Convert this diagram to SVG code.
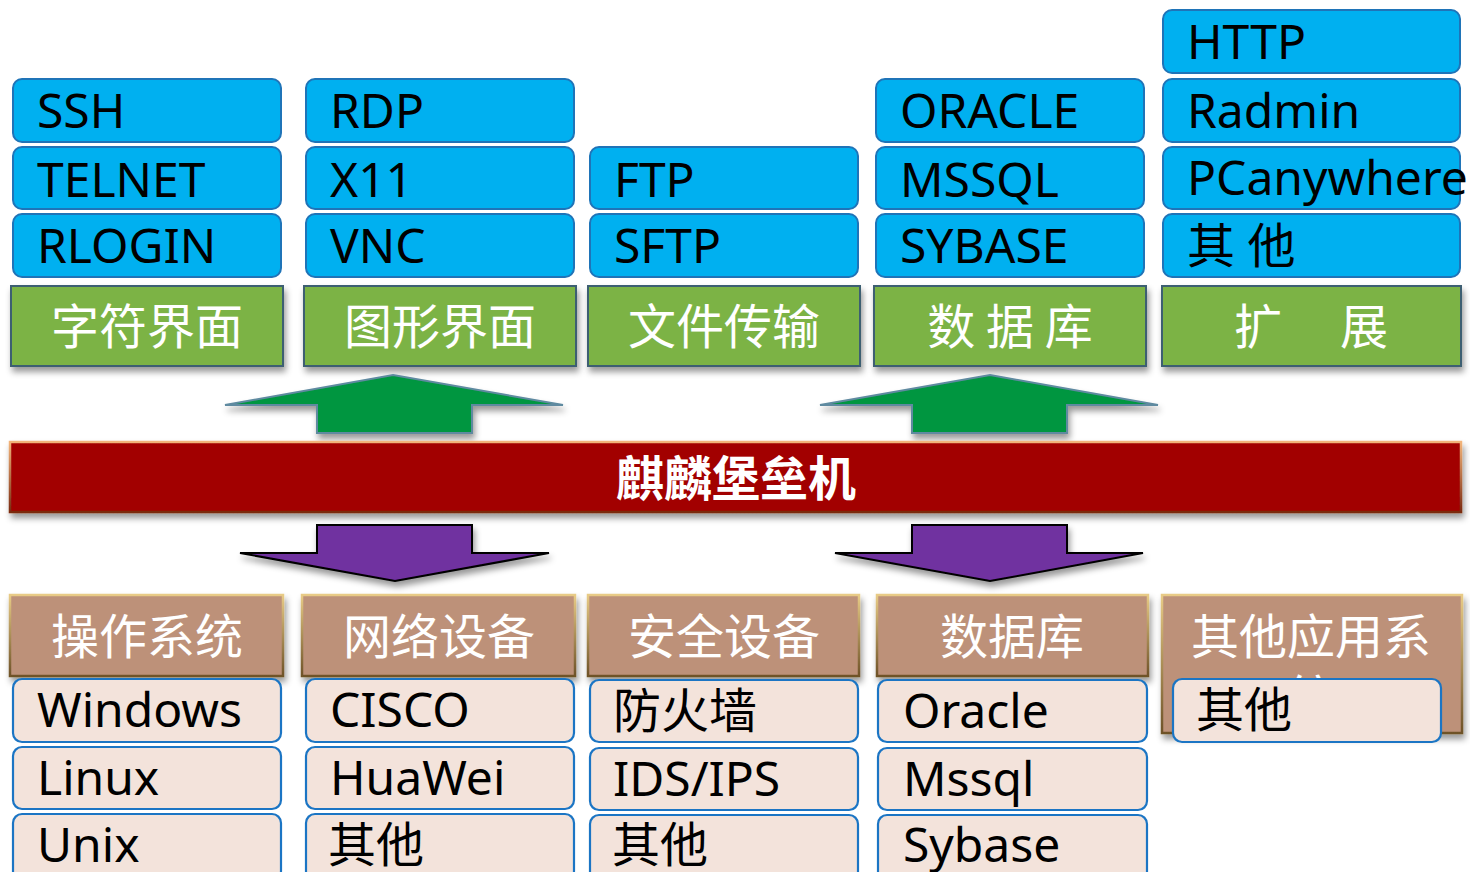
<svg xmlns="http://www.w3.org/2000/svg" width="1470" height="872" viewBox="0 0 1470 872">
<defs>
<filter id="sh" x="-10%" y="-20%" width="120%" height="150%">
<feDropShadow dx="2" dy="5" stdDeviation="3" flood-color="#000" flood-opacity="0.4"/>
</filter>
<linearGradient id="redEdge" x1="0" y1="0" x2="0" y2="1">
<stop offset="0" stop-color="#F2B47A"/><stop offset="1" stop-color="#7A2A10"/>
</linearGradient>
<linearGradient id="brownEdge" x1="0" y1="0" x2="0" y2="1">
<stop offset="0" stop-color="#E8CB86"/><stop offset="1" stop-color="#6E5228"/>
</linearGradient>
</defs>
<style>
.blue{fill:#00B0F0;stroke:#1F74B8;stroke-width:2}
.pink{fill:#F3E3DB;stroke:#1B75C4;stroke-width:2.2}
.green{fill:#7BB344;stroke:#3E5F72;stroke-width:2;filter:url(#sh)}
.brown{fill:#BD9179;stroke:url(#brownEdge);stroke-width:2.5;filter:url(#sh)}
.t{font-family:"Noto Sans","Noto Sans CJK SC",sans-serif;font-size:48px;fill:#000}
.h{font-family:"Noto Sans CJK SC","Noto Sans",sans-serif;font-size:48px;fill:#fff;text-anchor:middle}
.up{fill:#009640;stroke:#5E8AA0;stroke-width:2;stroke-linejoin:miter;filter:url(#sh)}
.down{fill:#7030A0;stroke:#000;stroke-width:2;filter:url(#sh)}
</style>

<!-- Top protocol groups -->
<g id="col1-top">
<rect class="blue" x="13" y="79" width="268" height="63" rx="9"/>
<text class="t" x="37" y="128">SSH</text>
<rect class="blue" x="13" y="147" width="268" height="62" rx="9"/>
<text class="t" x="37" y="197">TELNET</text>
<rect class="blue" x="13" y="214" width="268" height="63" rx="9"/>
<text class="t" x="37" y="263">RLOGIN</text>
</g>
<g id="hdr-char">
<rect class="green" x="11" y="286" width="272" height="80"/>
<text class="h" x="147" y="344">字符界面</text>
</g>

<g id="col2-top">
<rect class="blue" x="306" y="79" width="268" height="63" rx="9"/>
<text class="t" x="330" y="128">RDP</text>
<rect class="blue" x="306" y="147" width="268" height="62" rx="9"/>
<text class="t" x="330" y="197">X11</text>
<rect class="blue" x="306" y="214" width="268" height="63" rx="9"/>
<text class="t" x="330" y="263">VNC</text>
</g>
<g id="hdr-gui">
<rect class="green" x="304" y="286" width="272" height="80"/>
<text class="h" x="440" y="344">图形界面</text>
</g>

<g id="col3-top">
<rect class="blue" x="590" y="147" width="268" height="62" rx="9"/>
<text class="t" x="614" y="197">FTP</text>
<rect class="blue" x="590" y="214" width="268" height="63" rx="9"/>
<text class="t" x="614" y="263">SFTP</text>
</g>
<g id="hdr-file">
<rect class="green" x="588" y="286" width="272" height="80"/>
<text class="h" x="724" y="344">文件传输</text>
</g>

<g id="col4-top">
<rect class="blue" x="876" y="79" width="268" height="63" rx="9"/>
<text class="t" x="900" y="128">ORACLE</text>
<rect class="blue" x="876" y="147" width="268" height="62" rx="9"/>
<text class="t" x="900" y="197">MSSQL</text>
<rect class="blue" x="876" y="214" width="268" height="63" rx="9"/>
<text class="t" x="900" y="263">SYBASE</text>
</g>
<g id="hdr-db">
<rect class="green" x="874" y="286" width="272" height="80"/>
<text class="h" x="1010" y="344">数 据 库</text>
</g>

<g id="col5-top">
<rect class="blue" x="1163" y="10" width="297" height="63" rx="9"/>
<text class="t" x="1187" y="59">HTTP</text>
<rect class="blue" x="1163" y="79" width="297" height="63" rx="9"/>
<text class="t" x="1187" y="128">Radmin</text>
<rect class="blue" x="1163" y="147" width="297" height="62" rx="9"/>
<text class="t" x="1187" y="195">PCanywhere</text>
<rect class="blue" x="1163" y="214" width="297" height="63" rx="9"/>
<text class="t" x="1187" y="263">其 他</text>
</g>
<g id="hdr-ext">
<rect class="green" x="1162" y="286" width="299" height="80"/>
<text class="h" x="1258" y="344">扩<tspan x="1364">展</tspan></text>
</g>

<!-- Connectors (block arrows) -->
<g id="connectors">
<polygon class="up" points="393,375 563,405 472,405 472,433 317,433 317,405 225,405"/>
<polygon class="up" points="990,375 1158,405 1067,405 1067,433 912,433 912,405 820,405"/>
<polygon class="down" points="317,525 472,525 472,553 549,553 395,581 240,553 317,553"/>
<polygon class="down" points="912,525 1067,525 1067,553 1143,553 990,581 835,553 912,553"/>
</g>

<!-- Central bar -->
<g id="bastion">
<rect x="10" y="442" width="1451" height="70" fill="#A20000" stroke="url(#redEdge)" stroke-width="2.5" filter="url(#sh)"/>
<text x="736" y="496" font-family="'Noto Sans CJK SC',sans-serif" font-size="48" font-weight="bold" fill="#fff" text-anchor="middle">麒麟堡垒机</text>
</g>

<!-- Bottom groups -->
<g id="hdr-os">
<rect class="brown" x="10" y="595" width="273" height="81"/>
<text class="h" x="147" y="654">操作系统</text>
</g>
<g id="col1-bot">
<rect class="pink" x="13" y="679" width="268" height="63" rx="9"/>
<text class="t" x="37" y="727">Windows</text>
<rect class="pink" x="13" y="747" width="268" height="62" rx="9"/>
<text class="t" x="37" y="795">Linux</text>
<rect class="pink" x="13" y="814" width="268" height="66" rx="9"/>
<text class="t" x="37" y="862">Unix</text>
</g>

<g id="hdr-net">
<rect class="brown" x="302" y="595" width="273" height="81"/>
<text class="h" x="439" y="654">网络设备</text>
</g>
<g id="col2-bot">
<rect class="pink" x="306" y="679" width="268" height="63" rx="9"/>
<text class="t" x="330" y="727">CISCO</text>
<rect class="pink" x="306" y="747" width="268" height="62" rx="9"/>
<text class="t" x="330" y="795">HuaWei</text>
<rect class="pink" x="306" y="814" width="268" height="66" rx="9"/>
<text class="t" x="328" y="862">其他</text>
</g>

<g id="hdr-sec">
<rect class="brown" x="588" y="595" width="271" height="81"/>
<text class="h" x="724" y="654">安全设备</text>
</g>
<g id="col3-bot">
<rect class="pink" x="590" y="680" width="268" height="62" rx="9"/>
<text class="t" x="613" y="728">防火墙</text>
<rect class="pink" x="590" y="748" width="268" height="62" rx="9"/>
<text class="t" x="613" y="796">IDS/IPS</text>
<rect class="pink" x="590" y="815" width="268" height="66" rx="9"/>
<text class="t" x="612" y="862">其他</text>
</g>

<g id="hdr-dbsys">
<rect class="brown" x="877" y="595" width="271" height="81"/>
<text class="h" x="1012" y="654">数据库</text>
</g>
<g id="col4-bot">
<rect class="pink" x="878" y="680" width="269" height="62" rx="9"/>
<text class="t" x="903" y="728">Oracle</text>
<rect class="pink" x="878" y="748" width="269" height="62" rx="9"/>
<text class="t" x="903" y="796">Mssql</text>
<rect class="pink" x="878" y="815" width="269" height="66" rx="9"/>
<text class="t" x="903" y="862">Sybase</text>
</g>

<g id="hdr-other">
<rect class="brown" x="1162" y="595" width="300" height="138"/>
<text class="h" x="1311" y="654">其他应用系<tspan x="1311" y="715">统</tspan></text>
</g>
<g id="col5-bot">
<rect class="pink" x="1173" y="679" width="268" height="63" rx="9"/>
<text class="t" x="1196" y="727">其他</text>
</g>
</svg>
